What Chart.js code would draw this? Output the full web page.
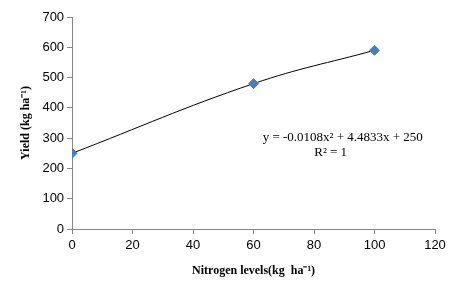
<!DOCTYPE html>
<html>
<head>
<meta charset="utf-8">
<script src="https://cdn.jsdelivr.net/npm/chart.js@4"></script>
<style>
  html, body { margin: 0; padding: 0; background: #fff; }
  #wrap { width: 462px; height: 292px; }
</style>
</head>
<body>
<div id="wrap"><canvas id="yieldChart"></canvas></div>
<script>
const nitrogen = [0, 60, 100]
const yieldKg = [250, 480, 590]
const xTicks = [0, 20, 40, 60, 80, 100, 120]
const yTicks = [0, 100, 200, 300, 400, 500, 600, 700]
const equation = 'y = -0.0108x² + 4.4833x + 250'
const rSquared = 'R² = 1'

const points = nitrogen.map((n, i) => ({x: n, y: yieldKg[i]}))
const axisGrey = '#868686'

// trendline label drawn next to the curve
const eqLabel = {
    id: 'eqLabel',
    afterDraw(chart) {
        const {ctx, scales} = chart
        ctx.save()
        ctx.fillStyle = '#000'
        ctx.font = '13px "Liberation Serif"'
        ctx.textAlign = 'center'
        ctx.textBaseline = 'middle'
        ctx.fillText(equation, scales.x.getPixelForValue(89.5), scales.y.getPixelForValue(302))
        ctx.fillText(rSquared, scales.x.getPixelForValue(85.5), scales.y.getPixelForValue(252))
        ctx.restore()
    }
}

new Chart(document.getElementById('yieldChart'), {
    type: 'scatter',
    data: {
        datasets: [{
            data: points,
            pointStyle: 'rectRot',
            pointRadius: 5,
            pointHoverRadius: 5,
            backgroundColor: '#4a7ebb',
            borderColor: '#4a7ebb',
            order: 1
        }, {
            type: 'line',
            data: points,
            borderColor: '#000',
            borderWidth: 1,
            tension: 0.4,
            pointRadius: 0,
            fill: false,
            order: 2
        }]
    },
    options: {
        responsive: true,
        maintainAspectRatio: false,
        animation: false,
        layout: {padding: {left: 15, right: 27, top: 17, bottom: 10}},
        plugins: {legend: {display: false}, tooltip: {enabled: false}},
        scales: {
            x: {
                type: 'linear',
                min: 0, max: 120,
                afterBuildTicks: axis => { axis.ticks = xTicks.map(v => ({value: v})) },
                grid: {drawOnChartArea: false, drawTicks: true, tickLength: 5, color: axisGrey},
                border: {color: axisGrey},
                ticks: {color: '#000', font: {family: 'Liberation Sans', size: 13}, padding: 4},
                title: {display: true, text: 'Nitrogen levels(kg  ha⁻¹)', color: '#000',
                    font: {family: 'Liberation Serif', size: 12, weight: 'bold'}, padding: {top: 6}}
            },
            y: {
                min: 0, max: 700,
                afterBuildTicks: axis => { axis.ticks = yTicks.map(v => ({value: v})) },
                grid: {drawOnChartArea: false, drawTicks: true, tickLength: 5, color: axisGrey},
                border: {color: axisGrey},
                ticks: {color: '#000', font: {family: 'Liberation Sans', size: 13}, padding: 3},
                title: {display: true, text: 'Yield (kg ha⁻¹)', color: '#000',
                    font: {family: 'Liberation Serif', size: 12, weight: 'bold'}, padding: {bottom: 6}}
            }
        }
    },
    plugins: [eqLabel]
})
</script>
</body>
</html>
